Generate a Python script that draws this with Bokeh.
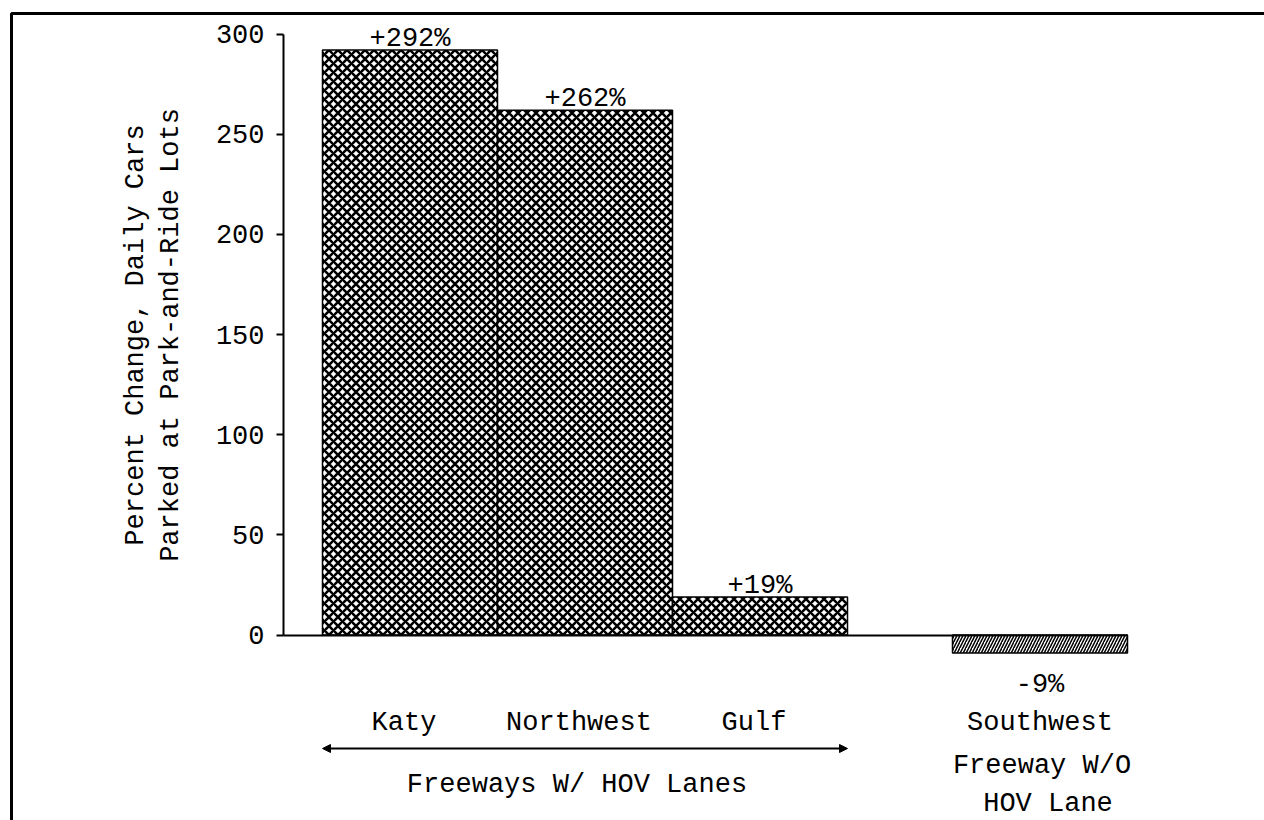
from bokeh.plotting import figure
from bokeh.models import Range1d, LinearAxis, FixedTicker, Arrow, NormalHead, ColumnDataSource
from bokeh.core.properties import value
from bokeh.embed import file_html
from bokeh.resources import INLINE

# ---- data ----
categories = ["Katy", "Northwest", "Gulf", "Southwest"]
pct_change = [292, 262, 19, -9]
value_labels = ["+292%", "+262%", "+19%", "-9%"]
has_hov = [True, True, True, False]
y_ticks = [0, 50, 100, 150, 200, 250, 300]
y_title = "Percent Change, Daily Cars\nParked at Park-and-Ride Lots"
group_label = "Freeways W/ HOV Lanes"
no_hov_lines = ["Freeway W/O", "HOV Lane"]

# ---- layout metrics ----
FONT = "Liberation Mono"
FS = "27px"
W, H = 1264, 820
PX_X = 175.0          # px per bar width
PX_Y = 2.003          # px per percent
X_ORIGIN_PX = 409.5   # px of first bar centre
Y_ZERO_PX = 634.5     # px (from top) of zero line
GAP = 0.6             # gap before the non-HOV group, in bar widths

X0 = -X_ORIGIN_PX / PX_X
X1 = X0 + W / PX_X
Y1 = Y_ZERO_PX / PX_Y
Y0 = Y1 - H / PX_Y

xpos = [i + (0 if h else GAP) for i, h in enumerate(has_hov)]

p = figure(width=W, height=H, x_range=Range1d(X0, X1), y_range=Range1d(Y0, Y1),
           output_backend="svg", toolbar_location=None,
           x_axis_type=None, y_axis_type=None, min_border=0,
           outline_line_color=None, background_fill_color="white",
           border_fill_color="white")

# frame border (left + top)
bx = X0 + 11 / PX_X
by = Y1 - 13 / PX_Y
p.line(x=[bx, bx, X1 + 1], y=[Y0 - 10, by, by], line_color="black", line_width=3)

# y axis
yaxis_x = X0 + 283 / PX_X
yaxis = LinearAxis(fixed_location=yaxis_x, bounds=(0, 300),
                   ticker=FixedTicker(ticks=y_ticks, minor_ticks=[]),
                   axis_label=y_title,
                   axis_line_width=2, axis_line_color="black",
                   major_tick_line_width=2, major_tick_line_color="black",
                   major_tick_in=0, major_tick_out=7,
                   minor_tick_line_color=None,
                   major_label_standoff=12,
                   major_label_text_font=FONT, major_label_text_font_size=FS,
                   major_label_text_color="black",
                   axis_label_text_font=FONT, axis_label_text_font_size=FS,
                   axis_label_text_font_style="normal",
                   axis_label_text_color="black",
                   axis_label_text_line_height=1.15,
                   axis_label_standoff=27)
p.add_layout(yaxis, "left")

# baseline (x axis at zero)
xaxis = LinearAxis(fixed_location=0, bounds=(yaxis_x, xpos[-1] + 0.5),
                   ticker=FixedTicker(ticks=[], minor_ticks=[]),
                   axis_line_width=2, axis_line_color="black",
                   major_tick_line_color=None, minor_tick_line_color=None,
                   major_label_text_font_size="0px")
p.add_layout(xaxis, "below")

# bars
hov_idx = [i for i, h in enumerate(has_hov) if h]
non_idx = [i for i, h in enumerate(has_hov) if not h]
src_hov = ColumnDataSource(dict(x=[xpos[i] for i in hov_idx], top=[pct_change[i] for i in hov_idx]))
src_non = ColumnDataSource(dict(x=[xpos[i] for i in non_idx], top=[pct_change[i] for i in non_idx]))
p.vbar(x="x", top="top", bottom=0, width=1, source=src_hov,
       fill_color="white", line_color="black", line_width=1.5,
       hatch_pattern="diagonal_cross", hatch_color="black", hatch_scale=9, hatch_weight=2.6)
p.vbar(x="x", top="top", bottom=0, width=1, source=src_non,
       fill_color="white", line_color="black", line_width=1.5,
       hatch_pattern="right_diagonal_line", hatch_color="black", hatch_scale=6, hatch_weight=1.5)

# value labels
lab_src = ColumnDataSource(dict(x=xpos, y=pct_change, text=value_labels,
                                yo=[-11 if v >= 0 else 32 for v in pct_change]))
p.text(x="x", y="y", text="text", y_offset="yo", source=lab_src,
       text_align="center", text_baseline="middle",
       text_font=value(FONT), text_font_size=FS, text_color="black")

# category labels
cat_src = ColumnDataSource(dict(x=xpos, y=[0] * len(xpos), text=categories,
                                xo=[-6 if h else 0 for h in has_hov]))
p.text(x="x", y="y", text="text", x_offset="xo", y_offset=88, source=cat_src,
       text_align="center", text_baseline="middle",
       text_font=value(FONT), text_font_size=FS, text_color="black")

# extra lines for the non-HOV freeway
sw_x = xpos[non_idx[0]]
for line, yo, xo in zip(no_hov_lines, [131, 169], [2, 8]):
    p.text(x=[sw_x], y=[0], text=[line], x_offset=xo, y_offset=yo,
           text_align="center", text_baseline="middle",
           text_font=value(FONT), text_font_size=FS, text_color="black")

# group arrow and label
ax0 = xpos[hov_idx[0]] - 0.5
ax1 = xpos[hov_idx[-1]] + 0.5
ay = -(748 - Y_ZERO_PX) / PX_Y
p.add_layout(Arrow(x_start=ax0, x_end=ax1, y_start=ay, y_end=ay,
                   line_color="black", line_width=2,
                   start=NormalHead(size=8, fill_color="black", line_color="black"),
                   end=NormalHead(size=8, fill_color="black", line_color="black")))
gx = sum(xpos[i] for i in hov_idx) / len(hov_idx)
p.text(x=[gx], y=[0], text=[group_label], x_offset=-8, y_offset=150,
       text_align="center", text_baseline="middle",
       text_font=value(FONT), text_font_size=FS, text_color="black")

open("out.html", "w").write(file_html(p, INLINE))
